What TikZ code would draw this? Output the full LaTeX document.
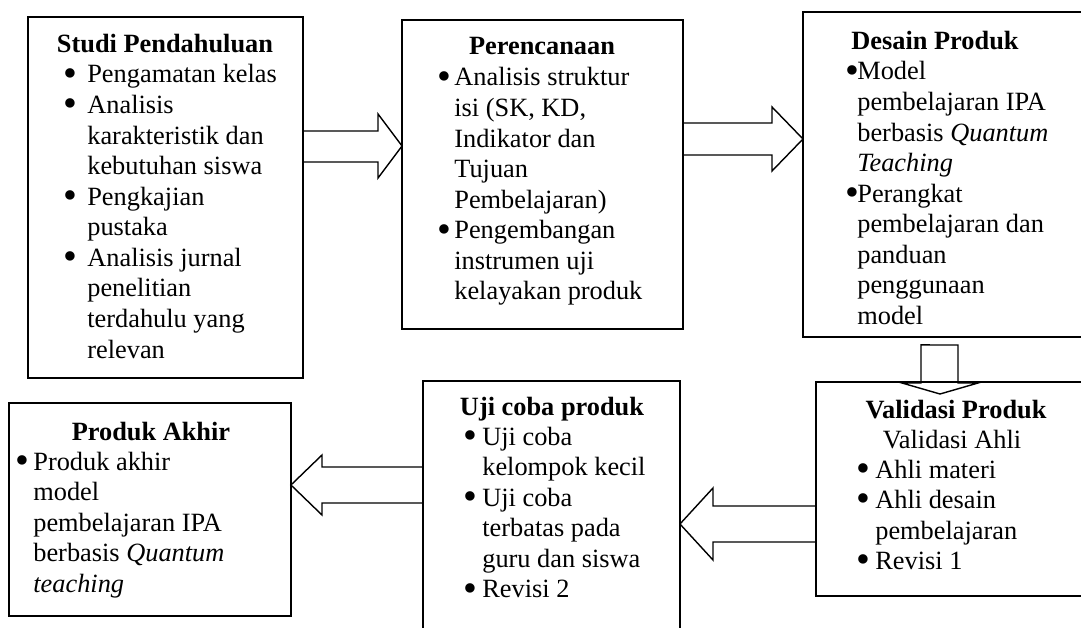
\documentclass[tikz,border=0pt]{standalone}
\usepackage{fontspec}
\usepackage{graphicx}
\setmainfont{Liberation Serif}
\usetikzlibrary{calc}

\newlength\bw
\newcommand\bul{\makebox[\bw][l]{\raisebox{-0.12em}{\scalebox{1.5}{\textbullet}}}}
\newcommand\ind{\hspace*{\bw}}

\begin{document}
\begin{tikzpicture}[x=0.02cm, y=-0.02cm,
  box/.style={draw, line width=1pt, rectangle, anchor=north west, inner sep=0pt, outer sep=0pt},
  ttl/.style={anchor=base, inner sep=0pt, font=\fontsize{15pt}{17.4pt}\selectfont\bfseries},
  sub/.style={anchor=base, inner sep=0pt, font=\fontsize{15pt}{17.4pt}\selectfont},
  lst/.style={anchor=base west, inner sep=0pt, font=\fontsize{15pt}{17.4pt}\selectfont},
  blk/.style={draw, line width=0.8pt, line join=miter}]

\useasboundingbox (0,0) rectangle (1081,628);
\clip (0,0) rectangle (1081,628);

\node[box, minimum width=5.5cm, minimum height=7.22cm] (studi) at (28,17) {};
\node[box, minimum width=5.62cm, minimum height=6.18cm] (rencana) at (402,20) {};
\node[box, minimum width=6cm, minimum height=6.5cm] (desain) at (803,12) {};
\node[box, minimum width=5.8cm, minimum height=4.28cm] (validasi) at (816,382) {};
\node[box, minimum width=5.14cm, minimum height=5.6cm] (ujicoba) at (423,381) {};
\node[box, minimum width=5.64cm, minimum height=4.26cm] (akhir) at (9,403) {};

\node[ttl] (studiT) at (165,53) {Studi Pendahuluan};
\node[lst] (studiL) at (63,83) {\setlength\bw{0.48cm}\begin{tabular}[t]{@{}l@{}}
\bul Pengamatan kelas\\
\bul Analisis\\
\ind karakteristik dan\\
\ind kebutuhan siswa\\
\bul Pengkajian\\
\ind pustaka\\
\bul Analisis jurnal\\
\ind penelitian\\
\ind terdahulu yang\\
\ind relevan
\end{tabular}};

\node[ttl] (rencanaT) at (542,55) {Perencanaan};
\node[lst] (rencanaL) at (437,86) {\setlength\bw{0.34cm}\begin{tabular}[t]{@{}l@{}}
\bul Analisis struktur\\
\ind isi (SK, KD,\\
\ind Indikator dan\\
\ind Tujuan\\
\ind Pembelajaran)\\
\bul Pengembangan\\
\ind instrumen uji\\
\ind kelayakan produk
\end{tabular}};

\node[ttl] (desainT) at (935,50) {Desain Produk};
\node[lst] (desainL) at (845,80) {\setlength\bw{0.24cm}\begin{tabular}[t]{@{}l@{}}
\bul Model\\
\ind pembelajaran IPA\\
\ind berbasis \textit{Quantum}\\
\ind \textit{Teaching}\\
\bul Perangkat\\
\ind pembelajaran dan\\
\ind panduan\\
\ind penggunaan\\
\ind model
\end{tabular}};

\node[ttl] (validasiT) at (956,418) {Validasi Produk};
\node[sub] (validasiS) at (952,448) {Validasi Ahli};
\node[lst] (validasiL) at (856,478) {\setlength\bw{0.38cm}\begin{tabular}[t]{@{}l@{}}
\bul Ahli materi\\
\bul Ahli desain\\
\ind pembelajaran\\
\bul Revisi 1
\end{tabular}};

\node[ttl] (ujicobaT) at (552,415) {Uji coba produk};
\node[lst] (ujicobaL) at (463,445) {\setlength\bw{0.38cm}\begin{tabular}[t]{@{}l@{}}
\bul Uji coba\\
\ind kelompok kecil\\
\bul Uji coba\\
\ind terbatas pada\\
\ind guru dan siswa\\
\bul Revisi 2
\end{tabular}};

\node[ttl] (akhirT) at (151,440) {Produk Akhir};
\node[lst] (akhirL) at (15,470) {\setlength\bw{0.36cm}\begin{tabular}[t]{@{}l@{}}
\bul Produk akhir\\
\ind model\\
\ind pembelajaran IPA\\
\ind berbasis \textit{Quantum}\\
\ind \textit{teaching}
\end{tabular}};

\draw[blk] (studi.east |- 0,131) -- (378,131) -- (378,114) -- (rencana.west |- 0,146) -- (378,178) -- (378,162) -- (studi.east |- 0,162) -- cycle;
\draw[blk] (rencana.east |- 0,123) -- (772,123) -- (772,107) -- (desain.west |- 0,139) -- (772,171) -- (772,155) -- (rencana.east |- 0,155) -- cycle;
\draw[blk] ($(desain.south west)+(118,8)$) -- (958,345) -- (958,383) -- (978,383) -- ($(validasi.north west)+(124,12)$) -- (902,383) -- (921,383) -- cycle;
\draw[blk] (validasi.west |- 0,506) -- (713,506) -- (713,488) -- (ujicoba.east |- 0,524) -- (713,560) -- (713,542) -- (validasi.west |- 0,542) -- cycle;
\draw[blk] (ujicoba.west |- 0,467) -- (322,467) -- (322,455) -- (akhir.east |- 0,485) -- (322,515) -- (322,503) -- (ujicoba.west |- 0,503) -- cycle;
\end{tikzpicture}
\end{document}
